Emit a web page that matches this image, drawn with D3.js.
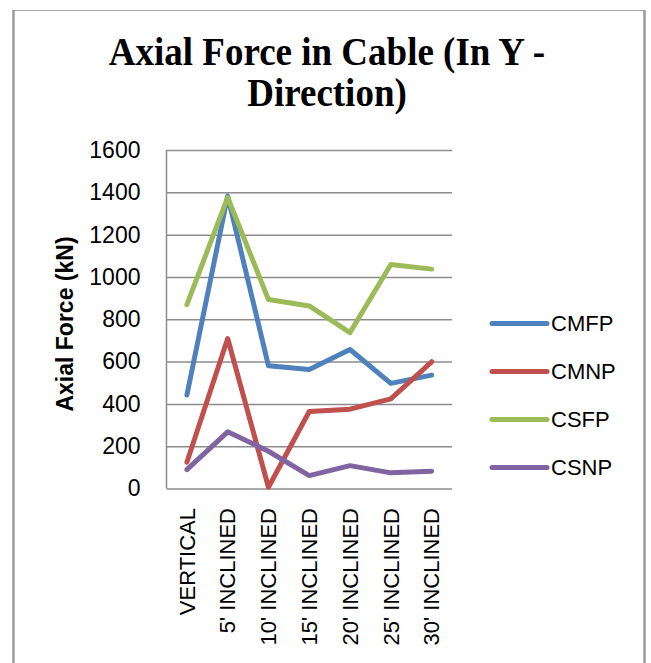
<!DOCTYPE html>
<html>
<head>
<meta charset="utf-8">
<script src="https://cdn.jsdelivr.net/npm/d3@7"></script>
<style>
  html, body { margin: 0; padding: 0; background: #fff; }
  svg { display: block; }
</style>
</head>
<body>
<div id="chart"></div>
<script>
// chart data
const categories = ["VERTICAL", "5' INCLINED", "10' INCLINED", "15' INCLINED", "20' INCLINED", "25' INCLINED", "30' INCLINED"];
const cmfp = [442, 1383, 580, 563, 657, 497, 536];
const cmnp = [124, 709, 6, 364, 375, 424, 599];
const csfp = [869, 1376, 893, 863, 737, 1059, 1037];
const csnp = [89, 268, 176, 61, 108, 74, 82];
const yTicks = [0, 200, 400, 600, 800, 1000, 1200, 1400, 1600];
const seriesNames = ["CMFP", "CMNP", "CSFP", "CSNP"];
const seriesColors = ["#4F81BD", "#C0504D", "#9BBB59", "#8064A2"];
const titleLines = ["Axial Force in Cable (In Y -", "Direction)"];
const yTitle = "Axial Force (kN)";

const series = seriesNames.map((name, i) => ({
  name: name,
  color: seriesColors[i],
  values: [cmfp, cmnp, csfp, csnp][i]
}));

const width = 651, height = 663;
const plot = { left: 166.5, right: 452, top: 150, bottom: 488.5 };

const svg = d3.select("#chart")
  .append("svg")
  .attr("width", width)
  .attr("height", height);

// outer chart frame (bottom edge is below the picture)
svg.append("line")
  .attr("x1", 13).attr("x2", 645).attr("y1", 10.5).attr("y2", 10.5)
  .attr("stroke", "#a6a6a6").attr("stroke-width", 1.2);
svg.selectAll(".frame-side")
  .data([13.5, 644.5])
  .join("line")
  .attr("class", "frame-side")
  .attr("x1", d => d).attr("x2", d => d)
  .attr("y1", 10).attr("y2", height)
  .attr("stroke", "#9a9a9a").attr("stroke-width", 2.5);

const x = d3.scalePoint()
  .domain(categories)
  .range([plot.left, plot.right])
  .padding(0.5);

const y = d3.scaleLinear()
  .domain([0, 1600])
  .range([plot.bottom, plot.top]);

// title (serif face is a bit condensed in the original, so stretch it a little)
svg.append("text")
  .attr("transform", "translate(327,0) scale(1,1.08)")
  .attr("font-family", "'Liberation Serif', 'Times New Roman', serif")
  .attr("font-weight", "bold")
  .attr("font-size", 37)
  .attr("text-anchor", "middle")
  .selectAll("tspan")
  .data(titleLines)
  .join("tspan")
  .attr("x", 0)
  .attr("y", (d, i) => (65 + i * 41) / 1.08)
  .text(d => d);

// y axis with gridlines
const yAxis = d3.axisLeft(y)
  .tickValues(yTicks)
  .tickFormat(d3.format("d"))
  .tickSize(-(plot.right - plot.left))
  .tickPadding(26);

svg.append("g")
  .attr("transform", `translate(${plot.left},0)`)
  .call(yAxis)
  .call(g => g.select(".domain").remove())
  .call(g => g.selectAll(".tick line")
    .attr("stroke", "#8c8c8c")
    .attr("stroke-width", 1.5))
  .call(g => g.selectAll(".tick text")
    .attr("font-family", "'Liberation Sans', Arial, sans-serif")
    .attr("font-size", 23)
    .attr("fill", "#000"));

// left axis line
svg.append("line")
  .attr("x1", plot.left).attr("x2", plot.left)
  .attr("y1", plot.top).attr("y2", plot.bottom)
  .attr("stroke", "#8c8c8c")
  .attr("stroke-width", 1.5);

// y axis title
svg.append("text")
  .attr("transform", "translate(73,324) rotate(-90)")
  .attr("text-anchor", "middle")
  .attr("font-family", "'Liberation Sans', Arial, sans-serif")
  .attr("font-weight", "bold")
  .attr("font-size", 23)
  .text(yTitle);

// x category labels, rotated
svg.append("g")
  .selectAll("text")
  .data(categories)
  .join("text")
  .attr("transform", d => `translate(${x(d)},508) rotate(-90)`)
  .attr("text-anchor", "end")
  .attr("dy", "0.35em")
  .attr("font-family", "'Liberation Sans', Arial, sans-serif")
  .attr("font-size", 22)
  .text(d => d);

// series lines
const line = d3.line()
  .x((d, i) => x(categories[i]))
  .y(d => y(d));

svg.append("g")
  .attr("fill", "none")
  .attr("stroke-width", 5)
  .attr("stroke-linejoin", "round")
  .attr("stroke-linecap", "round")
  .selectAll("path")
  .data(series)
  .join("path")
  .attr("stroke", d => d.color)
  .attr("d", d => line(d.values));

// legend
const legend = svg.append("g")
  .selectAll("g")
  .data(series)
  .join("g")
  .attr("transform", (d, i) => `translate(492,${323.5 + i * 48})`);

legend.append("line")
  .attr("x1", 0).attr("x2", 55)
  .attr("stroke", d => d.color)
  .attr("stroke-width", 5)
  .attr("stroke-linecap", "round");

legend.append("text")
  .attr("x", 59)
  .attr("dy", "0.35em")
  .attr("font-family", "'Liberation Sans', Arial, sans-serif")
  .attr("font-size", 22)
  .text(d => d.name);
</script>
</body>
</html>
